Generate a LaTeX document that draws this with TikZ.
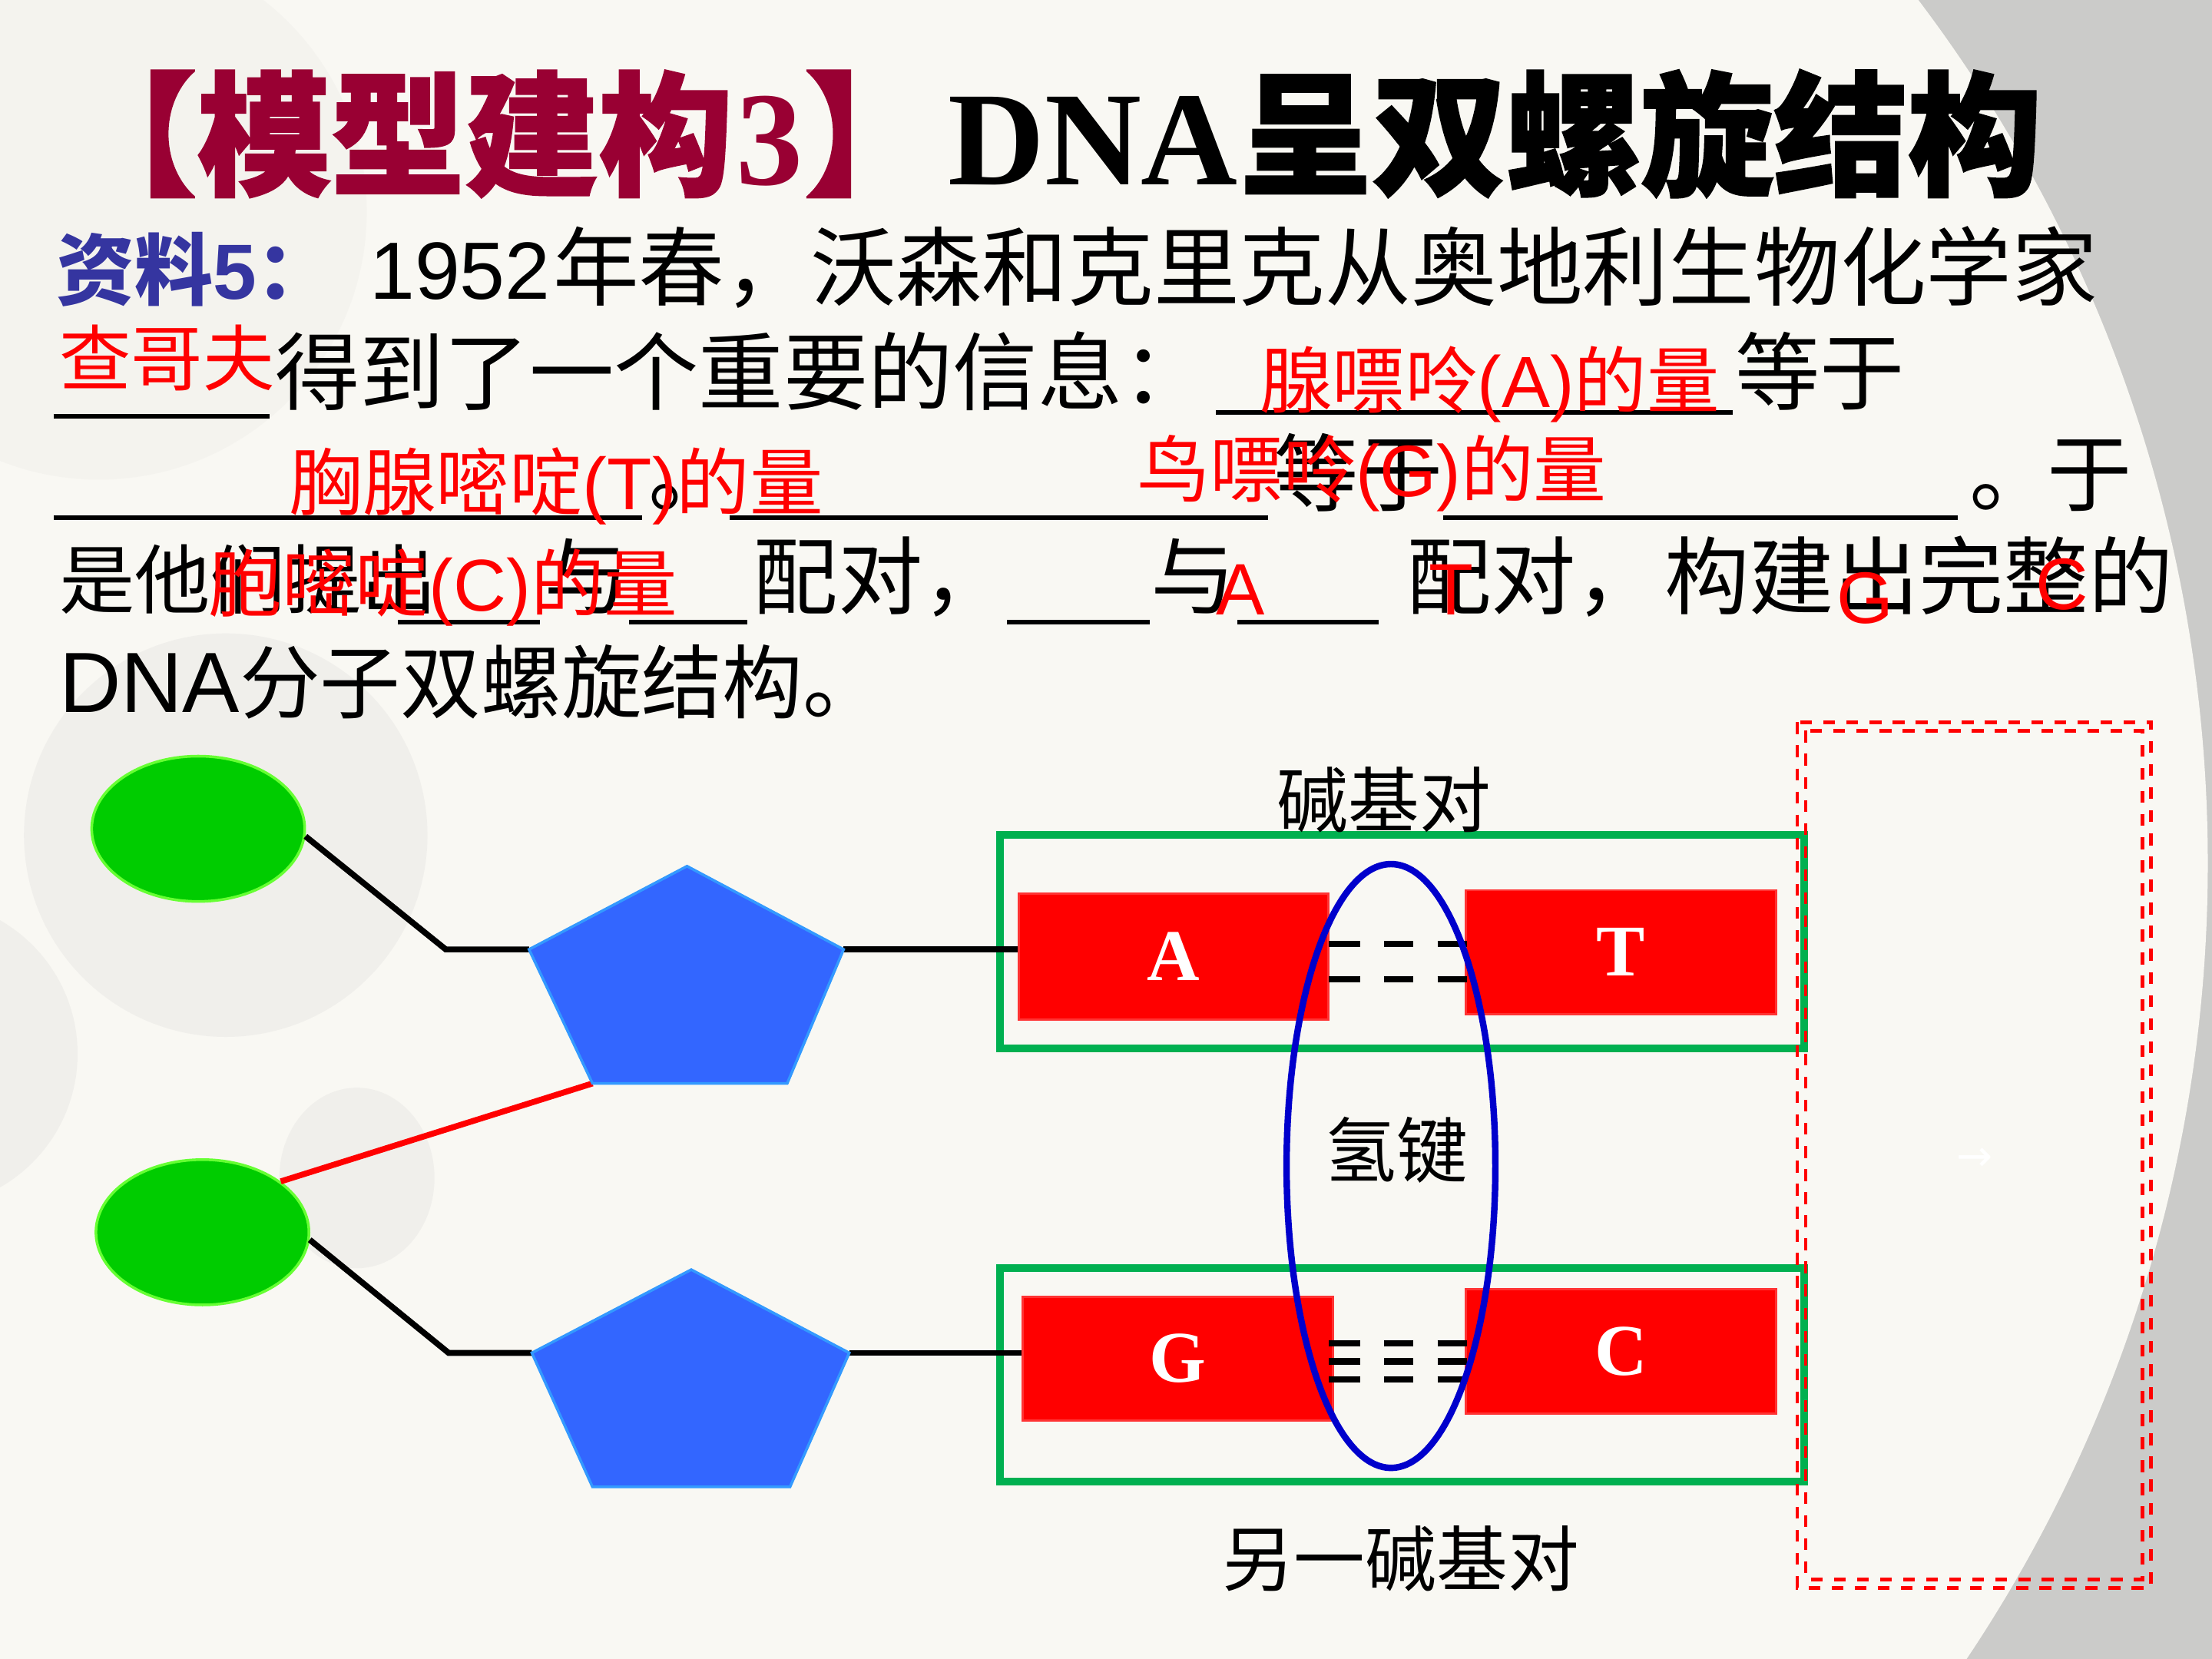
\documentclass[tikz,border=0pt]{standalone}
\usepackage{fontspec}
\setmainfont{Liberation Sans}
\newfontfamily\cjk{Noto Sans CJK SC}
\newfontfamily\cjkheavy{Noto Sans CJK SC}[BoldFeatures={FakeBold=1.5}]
\newfontfamily\tnr{Liberation Serif}
\newfontfamily\dejavu{DejaVu Sans}
\usetikzlibrary{shapes.geometric}
\definecolor{bgwhite}{HTML}{F9F8F3}
\definecolor{bggray}{HTML}{CBCBC9}
\definecolor{faint}{HTML}{EFEEEA}
\definecolor{titlered}{HTML}{990033}
\definecolor{zlblue}{HTML}{3535A0}
\definecolor{ellfill}{HTML}{00CC00}
\definecolor{elldraw}{HTML}{66FF33}
\definecolor{pentfill}{HTML}{3366FF}
\definecolor{pentdraw}{HTML}{3399FF}
\definecolor{pairgreen}{HTML}{00B050}
\definecolor{hblue}{HTML}{0000CC}
\definecolor{boxborder}{HTML}{FF3333}
\newcommand{\pxu}{0.018367cm}
\newcommand{\fs}[1]{\fontsize{#1}{#1}\selectfont}
\begin{document}
\begin{tikzpicture}[x=0.018367cm,y=-0.018367cm,
  t/.style={inner sep=0,outer sep=0,anchor=base west},
  blk/.style={t,text=black},
  rd/.style={t,text=red},
  uline/.style={line width=1.8pt,black},
  conn/.style={line width=2.2pt,black},
  redconn/.style={line width=2.2pt,red},
  ell/.style={ellipse,draw=elldraw,fill=ellfill,line width=1pt,inner sep=0,minimum width=151*\pxu,minimum height=103*\pxu},
  pent/.style={draw=pentdraw,fill=pentfill,line width=1pt,line join=miter},
  pairbox/.style={draw=pairgreen,line width=2.8pt,inner sep=0,minimum width=570*\pxu,minimum height=151*\pxu},
  base/.style={draw=boxborder,fill=red,line width=0.8pt,inner sep=0,minimum width=220*\pxu,minimum height=89*\pxu,text=white,font=\tnr\bfseries\fs{27}},
  hbond/.style={line width=2.3pt,black},
  rdash/.style={draw=red,line width=1.36pt,dash pattern=on 4.35pt off 4.2pt},
  lbl/.style={inner sep=0,text=black,font=\cjk\fs{26.4}}
]
\useasboundingbox (0,0) rectangle (1568,1176);
% background
\fill[bggray] (0,0) rectangle (1568,1176);
\fill[bgwhite] (550,612) circle (1015);
\begin{scope}
\clip (0,0) rectangle (1568,1176);
\fill[faint,opacity=0.45] (70,150) circle (190);
\fill[faint,opacity=0.85] (160,592) circle (143);
\fill[faint,opacity=0.85] (253,835) ellipse (55 and 64);
\fill[faint,opacity=0.85] (-54,747) circle (109);
\end{scope}

% title
\node[t,text=titlered,font=\cjkheavy\bfseries\fs{49.6}] (ti1) at (45,131) {【模型建构};
\node[t,text=titlered,font=\tnr\bfseries\fs{49.6}] (ti2) at (522,131) {3};
\node[t,text=titlered,font=\cjkheavy\bfseries\fs{49.6}] (ti3) at (570,131) {】};
\node[t,text=black,font=\tnr\bfseries\fs{49.6}] (ti4) at (672,131) {DNA};
\node[t,text=black,font=\cjkheavy\bfseries\fs{49.6}] (ti5) at (878,131) {呈双螺旋结构};

% line 1
\node[t,text=zlblue,font=\fs{29}] (l1a) at (40,212) {{\cjk\bfseries 资料}{\bfseries 5}{\cjk\bfseries ：}};
\node[blk,font=\fs{30.1}] (l1b) at (262,212) {1952};
\node[blk,font=\cjk\fs{31.8}] (l1c) at (392,212) {年春，沃森和克里克从奥地利生物化学家};

% line 2
\draw[uline] (38,295) -- (191,295);
\node[rd,font=\cjk\fs{26.6}] (l2a) at (42,273) {查哥夫};
\node[blk,font=\cjk\fs{31.4}] (l2b) at (195,286) {得到了一个重要的信息：};
\draw[uline] (862,292.5) -- (1228,292.5);
\node[rd,font=\fs{26.9}] (l2c) at (893,289) {{\cjk 腺嘌呤}(A){\cjk 的量}};
\node[blk,font=\cjk\fs{31.4}] (l2d) at (1230,286) {等于};

% line 3
\draw[uline] (38,367) -- (455,367);
\draw[uline] (517,367) -- (899,367);
\draw[uline] (1023,367) -- (1388,367);
\node[blk,font=\cjk\fs{31.4}] (l3a) at (460,358) {。};
\node[blk,font=\cjk\fs{31.4}] (l3b) at (903,358) {等于};
\node[rd,font=\fs{27.2}] (l3c) at (205,361) {{\cjk 胸腺嘧啶}(T){\cjk 的量}};
\node[rd,font=\fs{27}] (l3d) at (806,352) {{\cjk 鸟嘌呤}(G){\cjk 的量}};
\node[blk,font=\cjk\fs{31.4}] (l3e) at (1396,358) {。};
\node[blk,font=\cjk\fs{31.4}] (l3f) at (1451,358) {于};

% line 4
\node[blk,font=\cjk\fs{28}] (l4a) at (42,431) {是他们提出};
\draw[uline] (282,441) -- (383,441);
\node[blk,font=\cjk\fs{31.4}] (l4b) at (386,431) {与};
\draw[uline] (446,441) -- (530,441);
\node[blk,font=\cjk\fs{31.4}] (l4c) at (534,431) {配对，};
\draw[uline] (714,441) -- (815,441);
\node[blk,font=\cjk\fs{31.4}] (l4d) at (816,431) {与};
\draw[uline] (877,441) -- (977,441);
\node[blk,font=\cjk\fs{31.4}] (l4e) at (997,431) {配对，};
\node[blk,font=\cjk\fs{31.4}] (l4f) at (1180,431) {构建出完整的};
\node[rd,font=\fs{27.2}] (l4g) at (148,433) {{\cjk 胞嘧啶}(C){\cjk 的量}};
\node[rd,font=\fs{27}] (l4h) at (862,436) {A};
\node[rd,font=\fs{27}] (l4i) at (1013,436) {T};
\node[rd,font=\fs{27}] (l4j) at (1302,442) {G};
\node[rd,font=\fs{27}] (l4k) at (1443,432) {C};

% line 5
\node[blk,font=\fs{31.7}] (l5a) at (42,505) {DNA};
\node[blk,font=\cjk\fs{29.8}] (l5b) at (170,505) {分子双螺旋结构。};

% diagram
\node[pairbox] (pair1) at (994,667.5) {};
\node[pairbox] (pair2) at (994,974.5) {};

\node[ell] (e1) at (140.5,587.5) {};
\node[ell] (e2) at (143.5,873.5) {};

\coordinate (p1t) at (487,614);
\coordinate (p1l) at (375,673);
\coordinate (p1bl) at (420,768);
\coordinate (p1br) at (558,768);
\coordinate (p1r) at (598,673);
\coordinate (p2t) at (490,900);
\coordinate (p2l) at (377,959);
\coordinate (p2bl) at (420,1054);
\coordinate (p2br) at (560,1054);
\coordinate (p2r) at (602,959);
\coordinate (j1) at (316,673);
\coordinate (j2) at (318,959);

\node[base,minimum width=219.5*\pxu,minimum height=89.5*\pxu] (abox) at (832,678) {A};
\node[base,minimum height=88*\pxu] (tbox) at (1149,675) {T};
\node[base,minimum height=87.5*\pxu] (gbox) at (835,963) {G};
\node[base,minimum height=88.5*\pxu] (cbox) at (1149,958) {C};

\draw[conn] (e1.-4) -- (j1) -- (p1l);
\draw[conn] (p1r) -- (p1r -| abox.west);
\draw[redconn] (e2.33) -- (p1bl);
\draw[conn] (e2.-4) -- (j2) -- (p2l);
\draw[conn] (p2r) -- (p2r -| gbox.west);

\draw[pent] (p1t) -- (p1r) -- (p1br) -- (p1bl) -- (p1l) -- cycle;
\draw[pent] (p2t) -- (p2r) -- (p2br) -- (p2bl) -- (p2l) -- cycle;

% hydrogen bonds
\foreach \yy in {669,694}{
  \foreach \xa/\xb in {942/964,981/1002,1019/1040}{
    \draw[hbond] (\xa,\yy) -- (\xb,\yy);
  }
}
\foreach \yy in {952,965,978}{
  \foreach \xa/\xb in {942/964,981/1002,1019/1040}{
    \draw[hbond] (\xa,\yy) -- (\xb,\yy);
  }
}

\node[ellipse,draw=hblue,line width=2.4pt,inner sep=0,minimum width=148*\pxu,minimum height=428*\pxu] (hb) at (986,826.5) {};

\node[lbl] (lb1) at (981,567) {碱基对};
\node[lbl] (lb2) at (990,815) {氢键};
\node[lbl] (lb3) at (993,1105) {另一碱基对};

\node[inner sep=0,text=white,font=\dejavu\fs{16}] (arr) at (1400,822) {→};

\draw[rdash] (1274,512) rectangle (1524.5,1125.5);
\draw[rdash] (1280,518) rectangle (1518.5,1119.5);
\end{tikzpicture}
\end{document}
